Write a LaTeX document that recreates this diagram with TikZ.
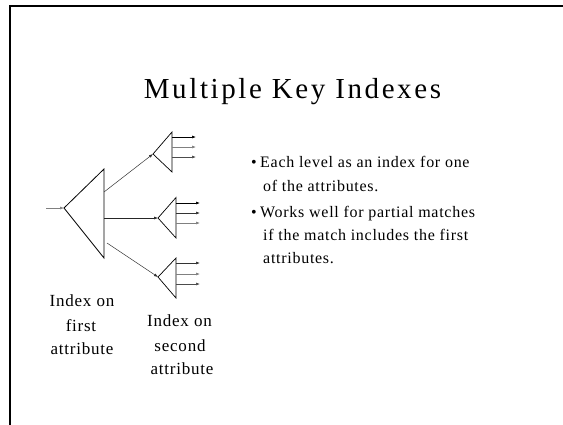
\documentclass[tikz,border=0pt]{standalone}
\usepackage{fontspec}
\setmainfont{Liberation Serif}
\usetikzlibrary{arrows.meta}
\begin{document}
\begin{tikzpicture}[x=1pt,y=-1pt,
  frame/.style={line width=2.6pt},
  tri/.style={line width=0.8pt},
  smalltri/.style={line width=0.7pt},
  link/.style={line width=0.5pt, -{Latex[length=4pt,width=3pt]}},
  fanout/.style={line width=0.6pt, -{Latex[length=4pt,width=3pt]}},
  title/.style={font=\fontsize{29}{34}\selectfont\addfontfeatures{LetterSpace=9}, anchor=base, inner sep=0},
  body/.style={font=\fontsize{16}{24}\selectfont\addfontfeatures{LetterSpace=4.5}, anchor=base west, inner sep=0},
  lbl/.style={font=\fontsize{17}{24}\selectfont\addfontfeatures{LetterSpace=4.5}, anchor=base, inner sep=0}]
\useasboundingbox (0,0) rectangle (563,424);

% slide frame (top and left edges)
\coordinate (fbl) at (9.8,430);
\coordinate (ftl) at (9.8,6);
\coordinate (ftr) at (570,6);
\draw[frame] (fbl) -- (ftl) -- (ftr);

% title
\node[title] (ttl) at (292.5,98.7) {Multiple Key Indexes};

% index on the first attribute
\coordinate (A) at (64,208);
\coordinate (AT) at (104,169);
\coordinate (AB) at (104,258);
\coordinate (in) at (46,208);
\draw[tri] (AT) -- (A) -- (AB) -- cycle;
\draw[link, gray] (in) -- (A);

% indexes on the second attribute
\coordinate (a1) at (153,154);
\coordinate (a1t) at (172,132);
\coordinate (a1b) at (172,172);
\coordinate (a2) at (158,218);
\coordinate (a2t) at (176,197.5);
\coordinate (a2b) at (176,238);
\coordinate (a3) at (158,277);
\coordinate (a3t) at (176,258);
\coordinate (a3b) at (176,298);
\draw[smalltri] (a1t) -- (a1) -- (a1b) -- cycle;
\draw[smalltri] (a2t) -- (a2) -- (a2b) -- cycle;
\draw[smalltri] (a3t) -- (a3) -- (a3b) -- cycle;

% pointers from the first level into the second
\coordinate (s1) at (104,192);
\coordinate (s2) at (104,218);
\coordinate (s3) at (107,243);
\draw[link, black!80] (s1) -- (a1);
\draw[link, black!85] (s2) -- (a2);
\draw[link, black!80] (s3) -- (a3);

% pointers out of the second-level indexes
\foreach \y/\c [count=\i] in {137/black,147/gray,157/black!70}{
  \coordinate (p1\i) at (172,\y);
  \coordinate (q1\i) at (196,\y);
  \draw[fanout, \c] (p1\i) -- (q1\i);
}
\foreach \y/\c [count=\i] in {203/black,213/black!80,223/gray}{
  \coordinate (p2\i) at (176,\y);
  \coordinate (q2\i) at (200,\y);
  \draw[fanout, \c] (p2\i) -- (q2\i);
}
\foreach \y/\c [count=\i] in {263/black!80,274/gray,284/black!70}{
  \coordinate (p3\i) at (176,\y);
  \coordinate (q3\i) at (200,\y);
  \draw[fanout, \c] (p3\i) -- (q3\i);
}

% labels under the indexes
\node[lbl] (l1a) at (82,306) {Index on};
\node[lbl] (l1b) at (81,331) {first};
\node[lbl] (l1c) at (82,354) {attribute};
\node[lbl] (l2a) at (179.5,326) {Index on};
\node[lbl] (l2b) at (180,351) {second};
\node[lbl] (l2c) at (182,374.5) {attribute};

% bullet points
\node[body] (b1) at (251,167) {\textbullet};
\node[body] (t1a) at (260,167) {Each level as an index for one};
\node[body] (t1b) at (263,191) {of the attributes.};
\node[body] (b2) at (251,217) {\textbullet};
\node[body] (t2a) at (260,217) {Works well for partial matches};
\node[body] (t2b) at (263,240.5) {if the match includes the first};
\node[body] (t2c) at (263,263) {attributes.};
\end{tikzpicture}
\end{document}
